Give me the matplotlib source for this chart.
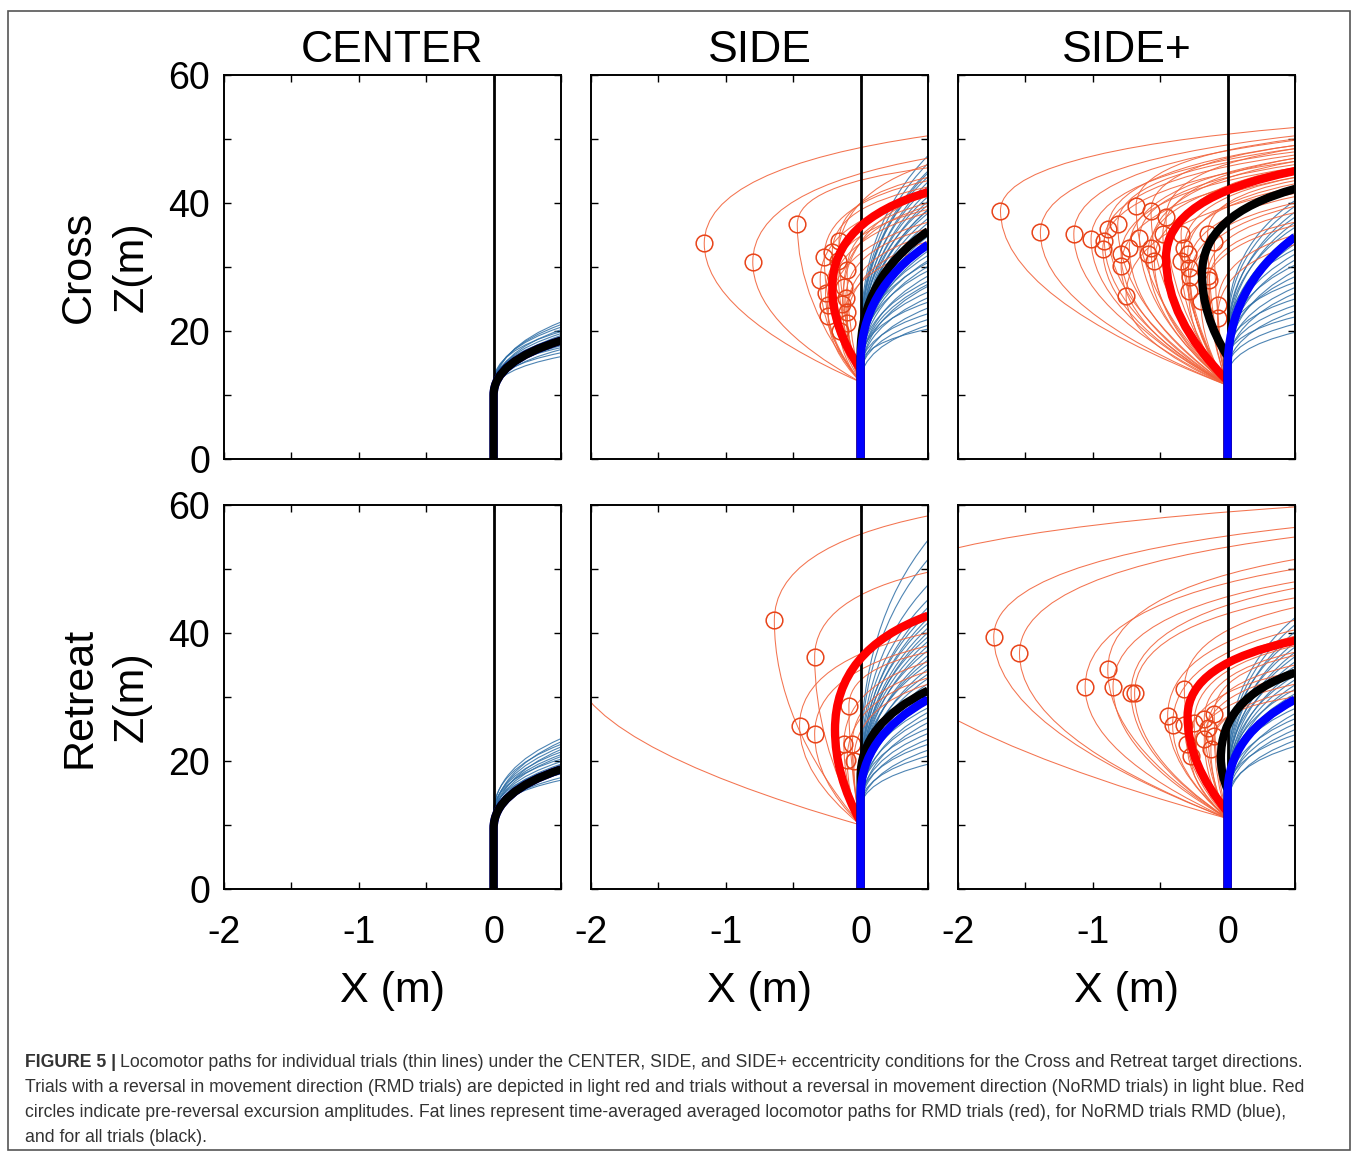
import numpy as np
import matplotlib
matplotlib.use("Agg")
import matplotlib.pyplot as plt
from matplotlib.path import Path
from matplotlib.patches import PathPatch, Rectangle

plt.rcParams["font.family"] = ["Liberation Sans", "DejaVu Sans"]

W, H = 1357, 1153
X_END = 0.5

conditions = ["CENTER", "SIDE", "SIDE+"]
directions = ["Cross", "Retreat"]

# NoRMD trials: (departure z, z at right edge)
center_cross_blue = [(10.5, 16.0), (11, 16.6), (10, 17.1), (11.5, 17.4), (10.5, 17.7), (11, 18.0),
                     (12, 18.3), (10.5, 18.5), (11, 18.8), (11.5, 19.0), (10, 19.3), (11, 19.6),
                     (12, 19.9), (10.5, 20.2), (11.5, 20.6), (11, 21.0), (10.5, 21.4)]
center_retreat_blue = [(10.5, 17.4), (11, 18.0), (10, 18.6), (11.5, 19.1), (10.5, 19.5), (11, 19.9),
                       (12, 20.3), (10.5, 20.7), (11, 21.0), (11.5, 21.4), (10, 21.8), (11, 22.2),
                       (12, 22.6), (10.5, 23.0), (11.5, 23.5), (11, 17.0)]
side_cross_blue = [(19, 47.4), (18, 46.2), (17.5, 45.0), (18.5, 44.1), (16, 43.3), (17, 42.6),
                   (15.5, 41.8), (16.5, 41.0), (15, 40.3), (17, 39.7), (14.5, 39.0), (16, 38.4),
                   (15, 37.6), (14, 36.9), (16.5, 36.1), (15, 35.5), (13.5, 34.8), (14.5, 34.0),
                   (16, 33.2), (13, 32.5), (15, 31.8), (14, 31.0), (13.5, 30.1), (15.5, 29.4),
                   (13, 28.6), (14.5, 27.8), (12.5, 27.0), (14, 26.1), (13, 25.2), (15, 24.5),
                   (12.5, 23.6), (14, 22.7), (13, 21.8), (12, 20.9), (14.5, 20.3), (17, 44.7),
                   (15.5, 38.9), (14, 35.2), (16, 30.7), (13.5, 27.3)]
sidep_cross_blue = [(21, 40.4), (20, 39.5), (18, 38.6), (19, 37.8), (17, 37.0), (18.5, 36.2),
                    (16, 35.3), (17.5, 34.5), (15.5, 33.6), (19, 32.8), (16.5, 32.0), (15, 31.1),
                    (17, 30.3), (14.5, 29.4), (16, 28.5), (18, 27.6), (15, 26.8), (14, 25.9),
                    (16.5, 25.0), (15, 24.0), (13.5, 23.1), (15.5, 22.2), (14, 21.1), (13, 19.8)]
side_retreat_blue = [(20, 54.5), (19, 51.5), (18, 47.5), (17.5, 45.2), (16, 44.0), (17, 43.1),
                     (15.5, 42.3), (16.5, 41.6), (15, 40.8), (14.5, 40.1), (16, 39.4), (15, 38.7),
                     (14, 38.0), (15.5, 37.3), (13.5, 36.5), (14.5, 35.8), (16, 35.1), (13, 34.4),
                     (15, 33.6), (14, 32.9), (13.5, 32.1), (15, 31.4), (12.5, 30.6), (14, 29.9),
                     (13, 29.1), (14.5, 28.3), (12.5, 27.6), (13.5, 26.8), (12, 26.0), (14, 25.1),
                     (13, 24.3), (12.5, 23.4), (13.5, 22.6), (12, 21.7), (13, 20.8), (12.5, 19.5)]
sidep_retreat_blue = [(19, 42.4), (18, 41.3), (17, 40.2), (18.5, 39.4), (16, 38.6), (17.5, 37.8),
                      (15.5, 37.0), (16.5, 36.3), (15, 35.5), (17, 34.8), (14.5, 34.1), (16, 33.4),
                      (15, 32.7), (14, 31.9), (16.5, 31.2), (15, 30.5), (13.5, 29.7), (14.5, 29.0),
                      (16, 28.2), (13, 27.4), (15, 26.6), (14, 25.8), (13.5, 24.9), (15, 24.1),
                      (13, 23.2), (14, 22.3)]

# RMD trials: (excursion x, excursion z, z at right edge)
side_cross_rmd = [(-1.16, 33.7, 50.5), (-0.80, 30.8, 47.0), (-0.47, 36.7, 45.5), (-0.16, 34.1, 44.0),
                  (-0.21, 32.4, 42.5), (-0.27, 31.6, 43.5), (-0.30, 28.0, 41.0), (-0.10, 29.5, 40.0),
                  (-0.26, 25.9, 39.0), (-0.245, 24.0, 38.5), (-0.24, 22.4, 37.0), (-0.125, 26.9, 39.5),
                  (-0.11, 25.1, 36.0), (-0.10, 23.0, 35.0), (-0.10, 21.2, 34.0), (-0.15, 20.0, 33.0),
                  (-0.17, 31.0, 46.0), (-0.135, 24.2, 41.5)]
sidep_cross_rmd = [(-1.685, 38.8, 51.8), (-1.389, 35.4, 50.5), (-1.141, 35.2, 49.8), (-1.013, 34.4, 48.5),
                   (-0.889, 35.9, 49.0), (-0.914, 34.1, 47.5), (-0.926, 32.8, 46.5), (-0.815, 36.7, 48.0),
                   (-0.79, 32.0, 45.5), (-0.79, 30.2, 44.5), (-0.729, 33.0, 47.0), (-0.679, 39.6, 50.0),
                   (-0.654, 34.5, 46.0), (-0.568, 38.8, 49.0), (-0.593, 32.0, 45.0), (-0.543, 31.0, 44.0),
                   (-0.568, 33.0, 46.5), (-0.457, 37.8, 48.5), (-0.48, 35.2, 47.0), (-0.753, 25.5, 42.0),
                   (-0.345, 35.2, 45.5), (-0.321, 33.0, 44.0), (-0.296, 32.0, 43.0), (-0.345, 31.0, 42.5),
                   (-0.29, 29.9, 41.0), (-0.277, 28.4, 40.0), (-0.148, 35.2, 43.5), (-0.099, 33.9, 41.5),
                   (-0.148, 28.6, 38.5), (-0.136, 27.9, 37.0), (-0.074, 24.0, 35.0), (-0.074, 22.1, 33.5),
                   (-0.29, 26.3, 39.5), (-0.198, 24.7, 36.5)]
side_retreat_rmd = [(-0.64, 42.0, 58.3), (-0.341, 36.3, 49.5), (-0.453, 25.5, 40.0), (-0.341, 24.2, 38.0),
                    (-0.087, 28.6, 37.0), (-0.124, 22.6, 35.5), (-0.062, 22.6, 34.0), (-0.10, 20.2, 33.0),
                    (-0.05, 20.0, 32.0), (-2.15, 36.0, 120.0)]
sidep_retreat_rmd = [(-1.735, 39.4, 56.5), (-1.544, 36.8, 55.0), (-1.057, 31.6, 50.0), (-0.889, 34.3, 51.5),
                     (-0.85, 31.6, 48.0), (-0.716, 30.7, 47.0), (-0.69, 30.6, 45.5), (-0.321, 31.3, 44.0),
                     (-0.445, 27.0, 42.0), (-0.408, 25.7, 40.5), (-0.32, 25.7, 39.5), (-0.248, 26.0, 38.0),
                     (-0.173, 26.6, 37.0), (-0.099, 27.3, 36.5), (-0.148, 25.1, 35.0), (-0.30, 22.6, 34.0),
                     (-0.272, 20.8, 32.0), (-0.173, 23.4, 33.5), (-0.124, 21.9, 31.0), (-0.099, 23.9, 30.0),
                     (-2.81, 44.0, 59.7)]
rmd_departure = {"SIDE": [12.0, 10.0], "SIDE+": [11.5, 11.0]}

# time-averaged paths: (departure z, excursion x, excursion z, z at right edge)
center_cross_mean = {"blue": (10, None, None, 18.5), "black": (10, None, None, 18.5)}
center_retreat_mean = {"blue": (9.5, None, None, 18.7), "black": (9.5, None, None, 18.7)}
side_cross_mean = {"red": (14, -0.21, 26.8, 41.7), "black": (16.5, None, None, 35.6), "blue": (15, None, None, 33.5)}
sidep_cross_mean = {"red": (12.2, -0.457, 31.5, 45.0), "black": (16, -0.19, 28.9, 42.2), "blue": (14, None, None, 34.7)}
side_retreat_mean = {"red": (10.5, -0.19, 24.9, 42.7), "black": (17.5, None, None, 31.0), "blue": (14.5, None, None, 29.6)}
sidep_retreat_mean = {"red": (12, -0.297, 27.0, 38.8), "black": (15.5, -0.05, 20.5, 33.8), "blue": (15, None, None, 29.6)}

blue_sets = [[center_cross_blue, side_cross_blue, sidep_cross_blue],
             [center_retreat_blue, side_retreat_blue, sidep_retreat_blue]]
rmd_sets = [[[], side_cross_rmd, sidep_cross_rmd],
            [[], side_retreat_rmd, sidep_retreat_rmd]]
mean_sets = [[center_cross_mean, side_cross_mean, sidep_cross_mean],
             [center_retreat_mean, side_retreat_mean, sidep_retreat_mean]]

caption = [
    "Locomotor paths for individual trials (thin lines) under the CENTER, SIDE, and SIDE+ eccentricity conditions for the Cross and Retreat target directions.",
    "Trials with a reversal in movement direction (RMD trials) are depicted in light red and trials without a reversal in movement direction (NoRMD trials) in light blue. Red",
    "circles indicate pre-reversal excursion amplitudes. Fat lines represent time-averaged averaged locomotor paths for RMD trials (red), for NoRMD trials RMD (blue),",
    "and for all trials (black).",
]


def trial_path(z0, xm, zm, ze, f=0.62):
    if xm is None:
        verts = [(0, 0), (0, z0), (0, z0 + f * (ze - z0)), (X_END, ze)]
        codes = [Path.MOVETO, Path.LINETO, Path.CURVE3, Path.CURVE3]
    else:
        verts = [(0, 0), (0, z0), (xm, (z0 + zm) / 2), (xm, zm),
                 (xm, zm + 0.7 * (ze - zm)), (X_END, ze)]
        codes = [Path.MOVETO, Path.LINETO, Path.CURVE3, Path.CURVE3, Path.CURVE3, Path.CURVE3]
    return Path(verts, codes)


def draw(ax, path, color, lw, alpha=1.0, z=2):
    ax.add_patch(PathPatch(path, fill=False, edgecolor=color, lw=lw, alpha=alpha,
                           zorder=z, capstyle="butt", joinstyle="round"))


fig = plt.figure(figsize=(W / 100, H / 100), dpi=100)

col_left = [224, 591, 958]
row_top = [75, 505]
ax_w, ax_h = 337, 384

for r in range(2):
    for c in range(3):
        ax = fig.add_axes([col_left[c] / W, 1 - (row_top[r] + ax_h) / H, ax_w / W, ax_h / H])
        ax.set_xlim(-2, 0.5)
        ax.set_ylim(0, 60)

        for z0, ze in blue_sets[r][c]:
            draw(ax, trial_path(z0, None, None, ze), "#2f6fa6", 0.8, alpha=0.85, z=2)
        if rmd_sets[r][c]:
            zd = rmd_departure[conditions[c]][r]
            for xm, zm, ze in rmd_sets[r][c]:
                draw(ax, trial_path(zd, xm, zm, ze), "#f2643c", 0.75, alpha=0.9, z=3)
            xs = [t[0] for t in rmd_sets[r][c]]
            zs = [t[1] for t in rmd_sets[r][c]]
            ax.plot(xs, zs, "o", ms=12, mfc="none", mec="#e8441a", mew=1.1, zorder=4)

        ax.axvline(0, color="black", lw=2.0, zorder=5)

        means = mean_sets[r][c]
        colors = {"red": "#ff0000", "black": "#000000", "blue": "#0000ff"}
        order = ["blue", "black"] if c == 0 else ["red", "black", "blue"]
        for k in order:
            z0, xm, zm, ze = means[k]
            draw(ax, trial_path(z0, xm, zm, ze), colors[k], 6.0, z=6 + order.index(k))

        ax.set_xticks([-2, -1.5, -1, -0.5, 0, 0.5])
        ax.set_yticks([0, 10, 20, 30, 40, 50, 60])
        if r == 1:
            ax.set_xticklabels(["-2", "", "-1", "", "0", ""])
            ax.set_xlabel("X (m)", fontsize=31, labelpad=14)
        else:
            ax.set_xticklabels([])
        if c == 0:
            ax.set_yticklabels(["0", "", "20", "", "40", "", "60"])
            ax.set_ylabel(directions[r] + "\nZ(m)", fontsize=31, labelpad=12, linespacing=1.4)
        else:
            ax.set_yticklabels([])
        ax.tick_params(direction="in", top=True, right=True, length=5, width=1.0,
                       labelsize=27, colors="black")
        ax.tick_params(axis="x", pad=19)
        ax.tick_params(axis="y", pad=10)
        for s in ax.spines.values():
            s.set_linewidth(1.4)
            s.set_zorder(10)
        if r == 0:
            ax.set_title(conditions[c], fontsize=32, pad=9)

# frame and caption
fig.patches.append(Rectangle((8 / W, 3 / H), (1350 - 8) / W, (1150 - 11) / H, transform=fig.transFigure,
                             fill=False, edgecolor="#555555", lw=1.2))
cap_size = 12.7
base_y = [1067, 1092, 1117, 1142]
bold = fig.text(25 / W, 1 - base_y[0] / H, "FIGURE 5 |", fontsize=cap_size, fontweight="bold",
                color="#333333", va="baseline")
fig.canvas.draw()
bb = bold.get_window_extent()
fig.text(bb.x1 / W + 4 / W, 1 - base_y[0] / H, caption[0], fontsize=cap_size,
         color="#333333", va="baseline")
for i in range(1, 4):
    fig.text(25 / W, 1 - base_y[i] / H, caption[i], fontsize=cap_size,
             color="#333333", va="baseline")

fig.savefig("out.png", dpi=100)
